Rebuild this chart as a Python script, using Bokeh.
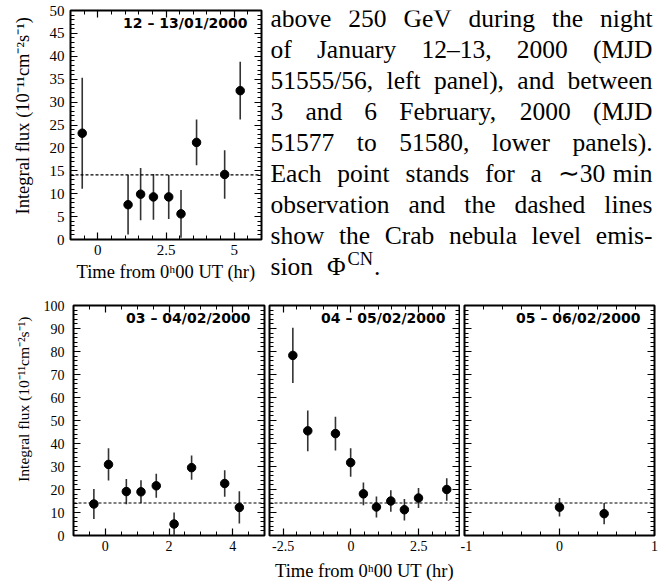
from bokeh.plotting import figure
from bokeh.models import (Range1d, LinearAxis, SingleIntervalTicker, Span, Label,
                          CustomJSTickFormatter, ColumnDataSource)
from bokeh.layouts import row, column
from bokeh.embed import file_html
from bokeh.resources import INLINE

# Integral flux above 250 GeV, in 1e-11 cm^-2 s^-1, vs. time from 0h00 UT (hr)
JAN12_TIME = [-0.57, 1.11, 1.57, 2.04, 2.60, 3.05, 3.62, 4.65, 5.22]
JAN12_FLUX = [23.2, 7.6, 9.9, 9.3, 9.3, 5.6, 21.2, 14.2, 32.5]
JAN12_ERR = [12.1, 6.5, 5.7, 5.0, 4.8, 5.2, 5.0, 5.3, 6.3]

FEB03_TIME = [-0.36, 0.10, 0.66, 1.12, 1.60, 2.16, 2.71, 3.75, 4.21]
FEB03_FLUX = [13.7, 30.9, 19.1, 19.0, 21.6, 5.0, 29.5, 22.6, 12.2]
FEB03_ERR = [6.5, 7.0, 5.5, 5.0, 5.2, 5.0, 5.3, 5.8, 7.0]

FEB04_TIME = [-2.14, -1.59, -0.57, -0.01, 0.46, 0.94, 1.47, 1.97, 2.49, 3.53]
FEB04_FLUX = [78.3, 45.5, 44.3, 31.7, 18.1, 12.4, 15.0, 11.2, 16.3, 20.0]
FEB04_ERR = [12.0, 8.9, 7.3, 6.2, 4.9, 4.6, 4.7, 4.7, 4.3, 4.9]

FEB05_TIME = [0.0, 0.47]
FEB05_FLUX = [12.3, 9.5]
FEB05_ERR = [4.0, 4.6]

CRAB_FLUX = 14.1

NIGHTS = ["12 \u2013 13/01/2000", "03 \u2013 04/02/2000",
          "04 \u2013 05/02/2000", "05 \u2013 06/02/2000"]

Y_TITLE = "Integral flux (10\u207b\u00b9\u00b9cm\u207b\u00b2s\u207b\u00b9)"
X_TITLE = "Time from 0\u02b000 UT (hr)"

CAPTION_LINES = [
    "above 250 GeV during the night",
    "of January 12\u201313, 2000 (MJD",
    "51555/56, left panel), and between",
    "3 and 6 February, 2000 (MJD",
    "51577 to 51580, lower panels).",
    "Each point stands for a \u223c30 min",
    "observation and the dashed lines",
    "show the Crab nebula level emis-",
]
CAPTION_END = ["sion", "\u03a6", "CN", "."]

SERIF = "Liberation Serif"

# advance widths (1/1000 em) of the serif face, used to justify caption lines
GLYPH_W = {" ": 250, "a": 444, "b": 500, "c": 444, "d": 500, "e": 444, "f": 333,
           "g": 500, "h": 500, "i": 278, "j": 278, "k": 500, "l": 278, "m": 778,
           "n": 500, "o": 500, "p": 500, "q": 500, "r": 333, "s": 389, "t": 278,
           "u": 500, "v": 500, "w": 722, "x": 500, "y": 500, "z": 444,
           "C": 667, "D": 722, "E": 611, "F": 556, "G": 722, "J": 389, "M": 889,
           "N": 722, "V": 722, ",": 250, ".": 250, "/": 278, "(": 333, ")": 333,
           "-": 333, "\u2013": 500, "\u223c": 541, "\u03a6": 763}


def text_width(s, size):
    return sum(GLYPH_W.get(c, 500) for c in s) / 1000.0 * size


def style_axis(ax, interval, n_minor, labels, label_size="15px",
               title=None, title_size="18px", standoff=5, title_standoff=4):
    ax.ticker = SingleIntervalTicker(interval=interval, num_minor_ticks=n_minor)
    ax.axis_line_color = None
    ax.major_tick_in = 7
    ax.major_tick_out = 0
    ax.minor_tick_in = 4
    ax.minor_tick_out = 0
    ax.major_tick_line_color = "black"
    ax.minor_tick_line_color = "black"
    ax.major_tick_line_width = 1.2
    ax.minor_tick_line_width = 1
    if labels:
        ax.formatter = CustomJSTickFormatter(code="return tick.toString();")
        ax.major_label_text_font = SERIF
        ax.major_label_text_font_size = label_size
        ax.major_label_text_color = "black"
        ax.major_label_standoff = standoff
    else:
        ax.formatter = CustomJSTickFormatter(code="return '';")
        ax.major_label_text_font_size = "0px"
        ax.major_label_standoff = 0
    if title:
        ax.axis_label = title
        ax.axis_label_text_font = SERIF
        ax.axis_label_text_font_size = title_size
        ax.axis_label_text_font_style = "normal"
        ax.axis_label_text_color = "black"
        ax.axis_label_standoff = title_standoff


def panel(width, height, borders, xr, yr, xstep, xminor, ystep, yminor,
          t, flux, err, night, xlabels=True, ylabels=True, xtitle=None,
          ytitle=None, tick_size="15px", ytitle_size="18px",
          x_standoff=5, y_standoff=6, xt_standoff=4, yt_standoff=12):
    left, right, top, bottom = borders
    p = figure(width=width, height=height,
               x_range=Range1d(*xr), y_range=Range1d(*yr),
               output_backend="svg", toolbar_location=None,
               min_border_left=left, min_border_right=right,
               min_border_top=top, min_border_bottom=bottom,
               background_fill_color="white", border_fill_color="white")
    p.grid.visible = False
    p.outline_line_color = "black"
    p.outline_line_width = 2

    style_axis(p.xaxis[0], xstep, xminor, xlabels, tick_size, xtitle,
               "18.5px", x_standoff, xt_standoff)
    style_axis(p.yaxis[0], ystep, yminor, ylabels, tick_size, ytitle,
               ytitle_size, y_standoff, yt_standoff)
    top_ax = LinearAxis()
    style_axis(top_ax, xstep, xminor, False)
    p.add_layout(top_ax, "above")
    right_ax = LinearAxis()
    style_axis(right_ax, ystep, yminor, False)
    p.add_layout(right_ax, "right")

    p.add_layout(Span(location=CRAB_FLUX, dimension="width",
                      line_color="black", line_dash="3 2", line_width=1.1))

    src = ColumnDataSource(dict(
        t=t, flux=flux,
        lo=[f - e for f, e in zip(flux, err)],
        hi=[f + e for f, e in zip(flux, err)],
    ))
    p.segment(x0="t", y0="lo", x1="t", y1="hi", source=src,
              line_color="#333333", line_width=1.6)
    p.scatter(x="t", y="flux", source=src, size=8.5, color="black")

    p.add_layout(Label(x=xr[1], y=yr[1], x_offset=-14, y_offset=-12,
                       text=night, text_align="right", text_baseline="middle",
                       text_font="DejaVu Sans", text_font_style="bold",
                       text_font_size="14px", text_color="black"))
    return p


# the y titles sit toward the top end of their axes
pad_top = "\u00a0" * 4
pad_bottom = "\u00a0" * 11

jan = panel(266, 290, (70, 5, 10, 51), (-1, 6), (0, 50), 2.5, 5, 5, 5,
            JAN12_TIME, JAN12_FLUX, JAN12_ERR, NIGHTS[0],
            xtitle=X_TITLE, ytitle=pad_top + Y_TITLE, tick_size="15px",
            ytitle_size="18.5px", yt_standoff=14)

feb3 = panel(266, 295, (73, 2, 15, 50), (-1, 5), (0, 100), 2, 4, 10, 5,
             FEB03_TIME, FEB03_FLUX, FEB03_ERR, NIGHTS[1],
             ytitle=pad_bottom + Y_TITLE, tick_size="14px", ytitle_size="15.5px",
             y_standoff=9, yt_standoff=9)

feb4 = panel(194, 295, (3, 1, 15, 50), (-3, 4), (0, 100), 2.5, 5, 10, 5,
             FEB04_TIME, FEB04_FLUX, FEB04_ERR, NIGHTS[2],
             ylabels=False, xtitle=X_TITLE, tick_size="14px", xt_standoff=7)

feb5 = panel(207, 295, (4, 13, 15, 50), (-1, 1), (0, 100), 1, 5, 10, 5,
             FEB05_TIME, FEB05_FLUX, FEB05_ERR, NIGHTS[3],
             ylabels=False, tick_size="14px")

# caption block, justified word by word in pixel coordinates (y downwards)
CAP_W, CAP_H = 401, 290
FS = 25.5
LEFT, RIGHT = 4.0, 386.0
BASE0, LEAD = 16.0, 31.0          # reference line of the first row, line pitch

cap = figure(frame_width=CAP_W, frame_height=CAP_H, title=None,
             x_range=Range1d(0, CAP_W), y_range=Range1d(CAP_H, 0),
             output_backend="svg", toolbar_location=None,
             x_axis_type=None, y_axis_type=None,
             min_border_left=0, min_border_right=0,
             min_border_top=0, min_border_bottom=0,
             background_fill_color="white", border_fill_color="white")
cap.grid.visible = False
cap.outline_line_color = None


def word(x, baseline, s, align="left", size=FS):
    cap.add_layout(Label(x=x, y=baseline - 0.305 * size, text=s,
                         text_align=align, text_baseline="middle",
                         text_font=SERIF, text_font_size=f"{size:.1f}px",
                         text_color="black"))


for i, line in enumerate(CAPTION_LINES):
    base = BASE0 + LEAD * i
    words = line.split(" ")
    widths = [text_width(w, FS) for w in words]
    gap = (RIGHT - LEFT - sum(widths)) / (len(words) - 1)
    x = LEFT
    for j, (w, wd) in enumerate(zip(words, widths)):
        if j == len(words) - 1:
            word(RIGHT, base, w, "right")
        else:
            word(x, base, w)
        x += wd + gap

base_last = BASE0 + LEAD * len(CAPTION_LINES)
x_phi = LEFT + text_width(CAPTION_END[0], FS) + 14
x_sup = x_phi + text_width(CAPTION_END[1], FS) + 1
sup_fs = FS * 0.72
x_dot = x_sup + text_width(CAPTION_END[2], sup_fs) + 1
word(LEFT, base_last, CAPTION_END[0])
word(x_phi, base_last, CAPTION_END[1])
word(x_sup, base_last - 10, CAPTION_END[2], size=sup_fs)
word(x_dot, base_last, CAPTION_END[3])

layout = column(row(jan, cap, spacing=0),
                row(feb3, feb4, feb5, spacing=0), spacing=0)

with open("out.html", "w") as f:
    f.write(file_html(layout, INLINE, title="Integral flux light curves"))
